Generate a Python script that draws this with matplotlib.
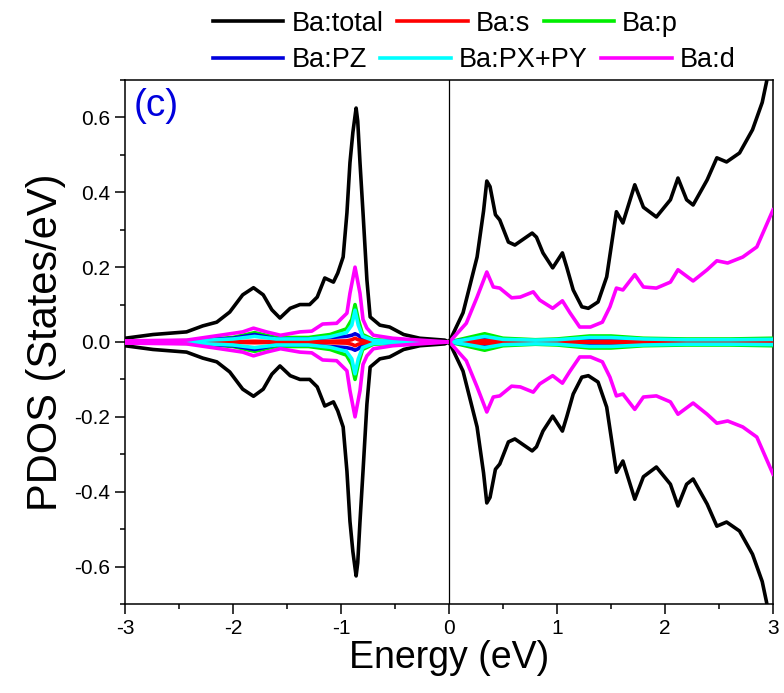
import matplotlib
matplotlib.use("Agg")
import matplotlib.pyplot as plt
from matplotlib.ticker import MultipleLocator, FormatStrFormatter

plt.rcParams["font.family"] = ["Liberation Sans", "DejaVu Sans"]
plt.rcParams["axes.unicode_minus"] = False

# spin-up PDOS; spin-down is drawn as the mirror image
total_e = [-3.0, -2.74, -2.43, -2.28, -2.15, -2.03, -1.91, -1.81, -1.72, -1.64,
           -1.565, -1.47, -1.38, -1.29, -1.22, -1.15, -1.07, -1.03, -0.98, -0.945,
           -0.917, -0.89, -0.86, -0.845, -0.824, -0.796, -0.76, -0.73, -0.64, -0.55,
           -0.42, -0.27, -0.04, 0.0,
           0.01, 0.13, 0.26, 0.32, 0.35, 0.38, 0.43, 0.47, 0.55, 0.61,
           0.77, 0.81, 0.87, 0.96, 1.05, 1.09, 1.15, 1.23, 1.29, 1.38,
           1.46, 1.55, 1.61, 1.72, 1.80, 1.92, 2.05, 2.12, 2.20, 2.26,
           2.39, 2.48, 2.57, 2.69, 2.81, 2.90, 2.94, 3.0]
total = [0.010, 0.020, 0.027, 0.043, 0.053, 0.080, 0.126, 0.145, 0.126, 0.086,
         0.064, 0.090, 0.100, 0.100, 0.120, 0.171, 0.160, 0.184, 0.227, 0.345,
         0.479, 0.560, 0.625, 0.590, 0.479, 0.345, 0.166, 0.067, 0.045, 0.040,
         0.020, 0.010, 0.005, 0.0,
         0.005, 0.078, 0.227, 0.350, 0.430, 0.415, 0.340, 0.326, 0.267, 0.259,
         0.291, 0.280, 0.238, 0.198, 0.238, 0.200, 0.139, 0.094, 0.090, 0.107,
         0.174, 0.348, 0.318, 0.420, 0.360, 0.334, 0.380, 0.438, 0.380, 0.366,
         0.433, 0.492, 0.481, 0.505, 0.567, 0.640, 0.695, 0.800]

d_e = [-3.0, -2.43, -2.12, -1.91, -1.81, -1.69, -1.56, -1.38, -1.27, -1.17,
       -1.04, -0.945, -0.917, -0.87, -0.824, -0.796, -0.76, -0.70, -0.52, -0.27, 0.0,
       0.01, 0.16, 0.26, 0.35, 0.41, 0.47, 0.58, 0.66, 0.78, 0.84,
       0.96, 1.05, 1.12, 1.21, 1.31, 1.42, 1.49, 1.55, 1.61, 1.72,
       1.80, 1.92, 2.05, 2.12, 2.26, 2.39, 2.48, 2.58, 2.72, 2.85, 3.0]
d = [0.003, 0.005, 0.018, 0.027, 0.037, 0.027, 0.018, 0.027, 0.029, 0.048,
     0.050, 0.077, 0.130, 0.200, 0.130, 0.060, 0.037, 0.018, 0.010, 0.005, 0.0,
     0.002, 0.050, 0.120, 0.187, 0.147, 0.144, 0.118, 0.120, 0.134, 0.112,
     0.090, 0.110, 0.078, 0.040, 0.040, 0.053, 0.094, 0.144, 0.139, 0.180,
     0.147, 0.144, 0.160, 0.193, 0.163, 0.193, 0.217, 0.211, 0.227, 0.254, 0.353]

small_e = [-3.0, -2.4, -2.0, -1.8, -1.6, -1.3, -1.1, -0.95, -0.9, -0.87,
           -0.84, -0.8, -0.7, -0.4, 0.0, 0.15, 0.33, 0.5, 0.8, 1.0,
           1.3, 1.5, 1.8, 2.2, 2.6, 3.0]
s = [0.0, 0.0, 0.001, 0.002, 0.001, 0.001, 0.002, 0.003, 0.006, 0.010,
     0.006, 0.003, 0.001, 0.0, 0.0, 0.002, 0.004, 0.002, 0.001, 0.001,
     0.001, 0.002, 0.001, 0.001, 0.001, 0.001]
p = [0.001, 0.004, 0.012, 0.025, 0.012, 0.012, 0.020, 0.035, 0.060, 0.100,
     0.060, 0.020, 0.006, 0.002, 0.0, 0.010, 0.022, 0.010, 0.006, 0.008,
     0.016, 0.016, 0.010, 0.008, 0.008, 0.010]
pz = [0.001, 0.003, 0.010, 0.020, 0.008, 0.008, 0.012, 0.015, 0.018, 0.022,
      0.018, 0.008, 0.003, 0.001, 0.0, 0.006, 0.012, 0.005, 0.003, 0.004,
      0.008, 0.008, 0.005, 0.004, 0.004, 0.004]
pxpy = [0.001, 0.003, 0.008, 0.015, 0.008, 0.008, 0.014, 0.025, 0.045, 0.085,
        0.045, 0.015, 0.004, 0.001, 0.0, 0.006, 0.015, 0.007, 0.005, 0.006,
        0.012, 0.012, 0.008, 0.006, 0.006, 0.007]

series = [
    ("Ba:total", total_e, total, "black", 2),
    ("Ba:s", small_e, s, "red", 5),
    ("Ba:p", small_e, p, "#00ee00", 3),
    ("Ba:PZ", small_e, pz, "#0000dd", 4),
    ("Ba:PX+PY", small_e, pxpy, "cyan", 5),
    ("Ba:d", d_e, d, "magenta", 6),
]

fig = plt.figure(figsize=(7.84, 6.93), dpi=100)
ax = fig.add_axes([0.1594, 0.1284, 0.8266, 0.7562])

handles = {}
for label, e, vals, color, z in series:
    line, = ax.plot(e, vals, color=color, lw=2.6, label=label, zorder=z,
                    solid_joinstyle="round")
    ax.plot(e, [-v for v in vals], color=color, lw=2.6, zorder=z,
            solid_joinstyle="round")
    handles[label] = line

ax.axvline(0, color="black", lw=0.9, zorder=7)

ax.set_xlim(-3, 3)
ax.set_ylim(-0.7, 0.7)
ax.xaxis.set_major_locator(MultipleLocator(1))
ax.xaxis.set_minor_locator(MultipleLocator(0.5))
ax.yaxis.set_major_locator(MultipleLocator(0.2))
ax.yaxis.set_minor_locator(MultipleLocator(0.1))
ax.yaxis.set_major_formatter(FormatStrFormatter("%.1f"))
ax.tick_params(which="major", direction="out", length=7, width=1.1, labelsize=15)
ax.tick_params(which="minor", direction="out", length=3.5, width=1.1)
for sp in ax.spines.values():
    sp.set_linewidth(1.1)

ax.set_xlabel("Energy (eV)", fontsize=27, labelpad=2)
ax.set_ylabel("PDOS (States/eV)", fontsize=30, labelpad=6)
ax.text(0.014, 0.985, "(c)", transform=ax.transAxes, color="#0000dd",
        fontsize=28, ha="left", va="top")

# two single-row legends, so each row keeps its own spacing
rows = [(["Ba:total", "Ba:s", "Ba:p"], 0.9654),
        (["Ba:PZ", "Ba:PX+PY", "Ba:d"], 0.9134)]
for names, ypos in rows:
    fig.legend([handles[k] for k in names], names, loc="center left",
               bbox_to_anchor=(213 / 784, ypos), ncol=3, frameon=False,
               fontsize=19.5, handlelength=2.6, handletextpad=0.3,
               columnspacing=0.5, borderpad=0, borderaxespad=0)

fig.savefig("out.png", dpi=100)
